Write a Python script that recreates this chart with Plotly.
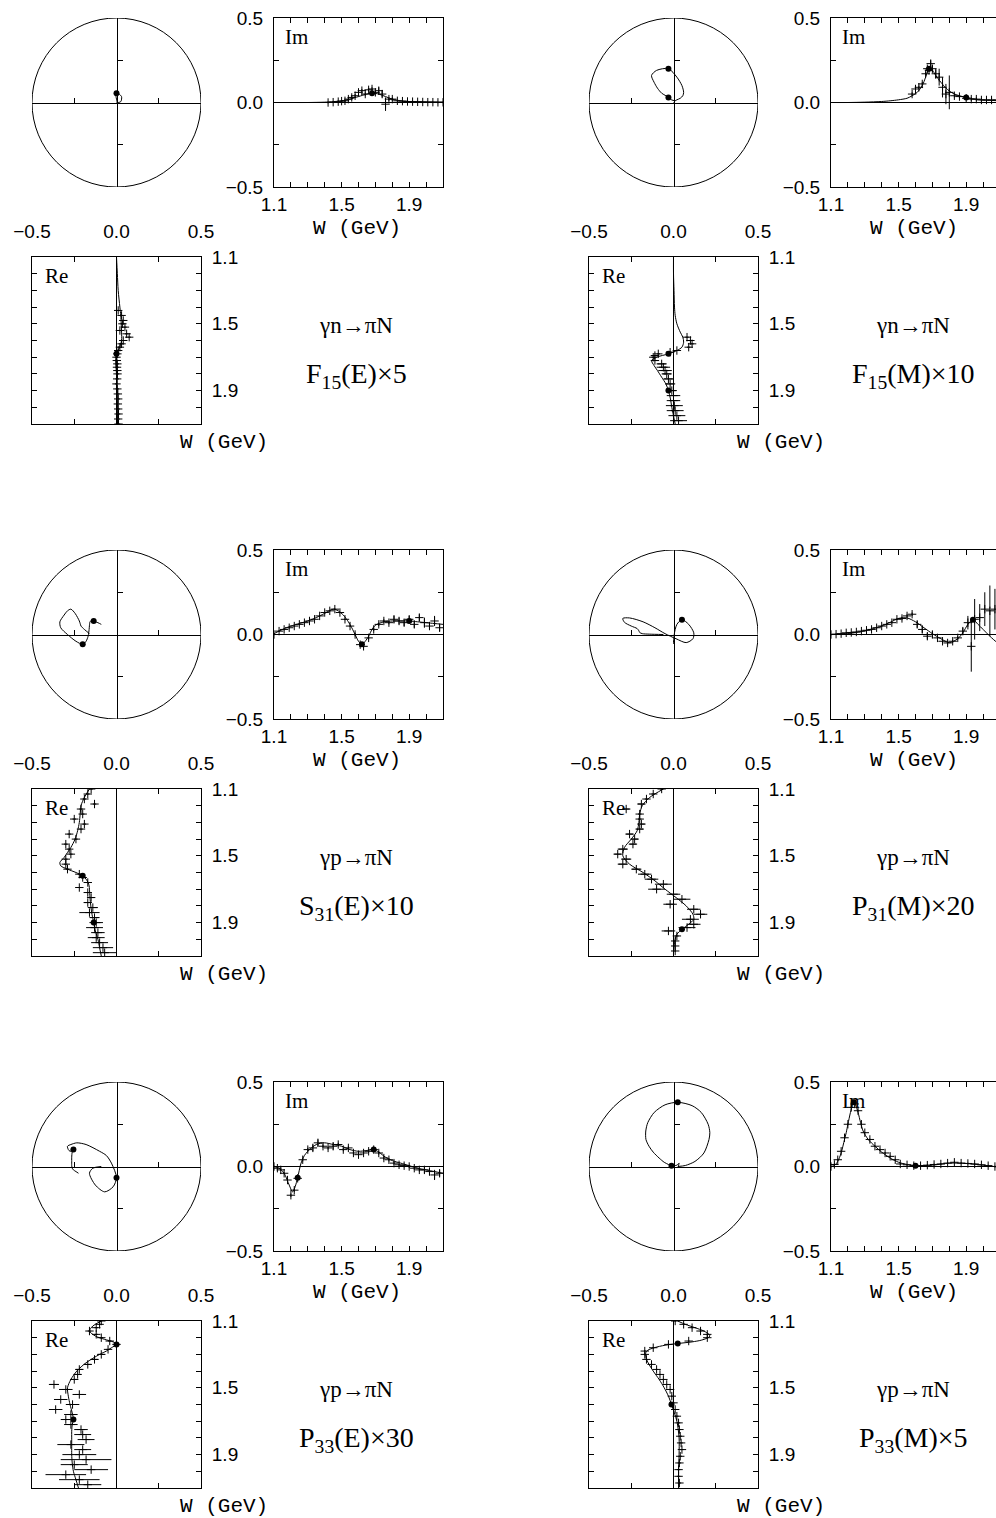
import plotly.graph_objects as go

# ---------------- tick values / labels ----------------
W_MAJOR = [1.1, 1.5, 1.9]
W_MAJOR_LABELS = ["1.1", "1.5", "1.9"]
W_MINOR = [1.2, 1.3, 1.4, 1.6, 1.7, 1.8, 2.0, 2.1]
W_ALL = [1.1, 1.2, 1.3, 1.4, 1.5, 1.6, 1.7, 1.8, 1.9, 2.0, 2.1]
AMP_MAJOR = [-0.5, 0.0, 0.5]
AMP_MAJOR_LABELS = ["\u22120.5", "0.0", "0.5"]
AMP_MINOR = [-0.25, 0.25]
CROSS_TICKS = [-0.25, 0.25]

# ---------------- panel texts ----------------
reactions = ["\u03b3n\u2192\u03c0N", "\u03b3n\u2192\u03c0N", "\u03b3p\u2192\u03c0N",
             "\u03b3p\u2192\u03c0N", "\u03b3p\u2192\u03c0N", "\u03b3p\u2192\u03c0N"]
multipoles = ["F<sub>15</sub>(E)\u00d75", "F<sub>15</sub>(M)\u00d710", "S<sub>31</sub>(E)\u00d710",
              "P<sub>31</sub>(M)\u00d720", "P<sub>33</sub>(E)\u00d730", "P<sub>33</sub>(M)\u00d75"]

# ---------------- panel 1: F15(E)x5 ----------------
w_curve_1 = [1.10, 1.20, 1.30, 1.40, 1.45, 1.50, 1.55, 1.60, 1.65, 1.68, 1.72, 1.76, 1.80, 1.85, 1.90, 2.00, 2.10]
im_curve_1 = [0.0, 0.0, 0.0, 0.002, 0.005, 0.01, 0.02, 0.035, 0.05, 0.055, 0.05, 0.035, 0.02, 0.01, 0.006, 0.003, 0.002]
re_curve_1 = [0.0, 0.005, 0.01, 0.02, 0.025, 0.028, 0.03, 0.03, 0.015, 0.0, -0.005, -0.003, 0.0, 0.002, 0.003, 0.005, 0.006]
w_dots_1 = [1.68]
w_data_1 = [1.42, 1.45, 1.48, 1.50, 1.52, 1.54, 1.56, 1.58, 1.60, 1.62, 1.64, 1.66, 1.68, 1.70, 1.72, 1.74, 1.76, 1.78,
            1.80, 1.83, 1.86, 1.89, 1.92, 1.95, 1.98, 2.01, 2.04, 2.07, 2.10]
im_data_1 = [0.0, 0.002, 0.005, 0.008, 0.01, 0.02, 0.03, 0.04, 0.06, 0.07, 0.05, 0.075, 0.08, 0.06, 0.07, 0.05, -0.01,
             0.02, 0.02, 0.01, 0.008, 0.006, 0.005, 0.004, 0.003, 0.002, 0.002, 0.001, 0.001]
im_err_1 = [0.005, 0.005, 0.005, 0.005, 0.005, 0.01, 0.01, 0.01, 0.01, 0.01, 0.01, 0.01, 0.01, 0.01, 0.02, 0.02, 0.04,
            0.01, 0.01, 0.005, 0.005, 0.005, 0.005, 0.005, 0.005, 0.005, 0.005, 0.005, 0.005]
re_data_1 = [0.01, 0.03, 0.04, 0.035, 0.05, 0.02, 0.06, 0.075, 0.04, 0.03, 0.02, 0.01, 0.005, 0.0, 0.002, 0.005, 0.003,
             0.005, 0.006, 0.004, 0.0, 0.005, 0.008, 0.01, 0.008, 0.01, 0.012, 0.01, 0.012]
re_err_1 = [0.01, 0.01, 0.01, 0.01, 0.01, 0.01, 0.01, 0.01, 0.01, 0.01, 0.01, 0.01, 0.01, 0.01, 0.01, 0.01, 0.01,
            0.01, 0.01, 0.01, 0.01, 0.01, 0.01, 0.01, 0.01, 0.01, 0.01, 0.01, 0.01]

# ---------------- panel 2: F15(M)x10 ----------------
w_curve_2 = [1.10, 1.20, 1.30, 1.40, 1.45, 1.50, 1.55, 1.58, 1.61, 1.64, 1.66, 1.68, 1.70, 1.72, 1.75, 1.78, 1.82,
             1.86, 1.90, 1.95, 2.00, 2.10]
im_curve_2 = [0.0, 0.0, 0.002, 0.006, 0.01, 0.016, 0.025, 0.04, 0.06, 0.1, 0.15, 0.2, 0.19, 0.16, 0.12, 0.085, 0.055,
              0.04, 0.03, 0.02, 0.015, 0.01]
re_curve_2 = [0.0, 0.0, 0.003, 0.006, 0.01, 0.02, 0.04, 0.055, 0.06, 0.05, 0.02, -0.03, -0.1, -0.13, -0.115, -0.095,
              -0.07, -0.045, -0.03, -0.018, -0.01, 0.01]
w_dots_2 = [1.68, 1.90]
w_data_2 = [1.58, 1.60, 1.62, 1.64, 1.66, 1.67, 1.68, 1.69, 1.70, 1.72, 1.74, 1.76, 1.78, 1.80, 1.83, 1.86, 1.90, 1.93,
            1.96, 1.99, 2.02, 2.05, 2.08]
im_data_2 = [0.05, 0.08, 0.09, 0.11, 0.17, 0.2, 0.19, 0.23, 0.2, 0.17, 0.15, 0.09, 0.05, 0.06, 0.04, 0.035, 0.025,
             0.02, 0.02, 0.015, 0.015, 0.015, 0.015]
im_err_2 = [0.01, 0.01, 0.01, 0.01, 0.01, 0.01, 0.01, 0.02, 0.02, 0.03, 0.05, 0.06, 0.06, 0.1, 0.01, 0.01, 0.01, 0.01,
            0.01, 0.01, 0.01, 0.01, 0.01]
re_data_2 = [0.08, 0.1, 0.11, 0.09, 0.02, -0.02, -0.09, -0.11, -0.12, -0.11, -0.07, -0.06, -0.05, -0.04, -0.03, -0.02,
             -0.01, 0.0, 0.0, 0.005, 0.01, 0.02, 0.03]
re_err_2 = [0.01, 0.01, 0.01, 0.01, 0.01, 0.01, 0.01, 0.01, 0.01, 0.02, 0.03, 0.04, 0.04, 0.03, 0.03, 0.03, 0.03, 0.04,
            0.04, 0.05, 0.05, 0.05, 0.05]

# ---------------- panel 3: S31(E)x10 ----------------
w_curve_3 = [1.10, 1.15, 1.20, 1.25, 1.30, 1.35, 1.40, 1.45, 1.48, 1.51, 1.54, 1.56, 1.58, 1.60, 1.62, 1.64, 1.66,
             1.68, 1.70, 1.75, 1.80, 1.85, 1.90, 1.95, 2.00, 2.05, 2.10]
im_curve_3 = [0.005, 0.03, 0.05, 0.065, 0.08, 0.1, 0.125, 0.15, 0.14, 0.115, 0.075, 0.04, 0.0, -0.04, -0.058, -0.04,
              -0.01, 0.03, 0.055, 0.075, 0.08, 0.08, 0.08, 0.075, 0.07, 0.065, 0.06]
re_curve_3 = [-0.16, -0.19, -0.21, -0.215, -0.22, -0.23, -0.245, -0.27, -0.29, -0.31, -0.335, -0.33, -0.29, -0.24,
              -0.2, -0.18, -0.168, -0.162, -0.16, -0.157, -0.152, -0.145, -0.135, -0.125, -0.11, -0.1, -0.09]
w_dots_3 = [1.62, 1.90]
w_data_3 = [1.10, 1.13, 1.16, 1.19, 1.22, 1.25, 1.28, 1.31, 1.34, 1.37, 1.40, 1.43, 1.46, 1.49, 1.52, 1.55, 1.58,
            1.61, 1.63, 1.66, 1.69, 1.72, 1.75, 1.78, 1.81, 1.84, 1.87, 1.90, 1.93, 1.96, 1.99, 2.02, 2.05, 2.08]
im_data_3 = [0.0, 0.02, 0.03, 0.04, 0.05, 0.06, 0.07, 0.08, 0.09, 0.11, 0.13, 0.14, 0.15, 0.13, 0.09, 0.05, 0.0,
             -0.06, -0.07, -0.02, 0.03, 0.06, 0.08, 0.07, 0.09, 0.08, 0.07, 0.09, 0.06, 0.1, 0.07, 0.05, 0.08, 0.04]
im_err_3 = [0.005, 0.005, 0.005, 0.005, 0.005, 0.005, 0.005, 0.005, 0.005, 0.005, 0.005, 0.005, 0.005, 0.005, 0.005,
            0.005, 0.01, 0.01, 0.01, 0.01, 0.01, 0.01, 0.01, 0.01, 0.02, 0.02, 0.02, 0.02, 0.02, 0.02, 0.03, 0.02,
            0.03, 0.02]
re_data_3 = [-0.15, -0.17, -0.19, -0.13, -0.21, -0.2, -0.25, -0.19, -0.21, -0.28, -0.24, -0.3, -0.28, -0.27, -0.3,
             -0.3, -0.29, -0.22, -0.2, -0.17, -0.22, -0.17, -0.15, -0.17, -0.14, -0.16, -0.13, -0.12, -0.13, -0.11,
             -0.12, -0.1, -0.08, -0.07]
re_err_3 = [0.01, 0.01, 0.01, 0.01, 0.01, 0.01, 0.01, 0.01, 0.01, 0.01, 0.01, 0.01, 0.01, 0.01, 0.01, 0.01, 0.01,
            0.01, 0.01, 0.01, 0.01, 0.01, 0.02, 0.02, 0.03, 0.06, 0.03, 0.04, 0.05, 0.04, 0.05, 0.05, 0.06, 0.07]

# ---------------- panel 4: P31(M)x20 ----------------
w_curve_4 = [1.10, 1.15, 1.20, 1.25, 1.30, 1.35, 1.40, 1.45, 1.50, 1.55, 1.60, 1.65, 1.70, 1.75, 1.80, 1.85, 1.88,
             1.91, 1.94, 1.97, 2.00, 2.04, 2.08, 2.10]
im_curve_4 = [0.0, 0.002, 0.005, 0.012, 0.022, 0.035, 0.05, 0.072, 0.095, 0.098, 0.075, 0.04, 0.005, -0.025, -0.048,
              -0.025, 0.01, 0.06, 0.088, 0.06, 0.03, -0.01, -0.045, -0.055]
re_curve_4 = [-0.06, -0.14, -0.185, -0.2, -0.205, -0.215, -0.25, -0.29, -0.3, -0.26, -0.18, -0.11, -0.05, 0.015,
              0.075, 0.115, 0.12, 0.09, 0.05, 0.02, 0.01, 0.003, 0.0, 0.0]
w_dots_4 = [1.94]
w_data_4 = [1.10, 1.13, 1.16, 1.19, 1.22, 1.25, 1.28, 1.31, 1.34, 1.37, 1.40, 1.43, 1.46, 1.49, 1.52, 1.55, 1.58,
            1.61, 1.64, 1.67, 1.70, 1.73, 1.76, 1.79, 1.82, 1.85, 1.88, 1.91, 1.93, 1.95, 1.98, 2.01, 2.04, 2.07]
im_data_4 = [0.0, 0.002, 0.005, 0.01, 0.012, 0.015, 0.02, 0.025, 0.03, 0.04, 0.05, 0.06, 0.07, 0.09, 0.095, 0.11,
             0.12, 0.06, 0.03, -0.01, 0.0, -0.02, -0.04, -0.05, -0.04, -0.02, 0.02, 0.07, -0.07, 0.09, 0.1, 0.15,
             0.14, 0.15]
im_err_4 = [0.005, 0.005, 0.005, 0.005, 0.005, 0.005, 0.005, 0.005, 0.005, 0.005, 0.005, 0.005, 0.005, 0.005, 0.01,
            0.01, 0.01, 0.02, 0.02, 0.02, 0.02, 0.01, 0.01, 0.01, 0.01, 0.01, 0.02, 0.04, 0.15, 0.12, 0.08, 0.1,
            0.15, 0.12]
re_data_4 = [-0.07, -0.12, -0.16, -0.19, -0.28, -0.2, -0.2, -0.19, -0.2, -0.26, -0.23, -0.24, -0.3, -0.33, -0.28,
             -0.3, -0.22, -0.17, -0.13, -0.06, -0.1, 0.0, 0.05, -0.02, 0.12, 0.16, 0.1, 0.12, 0.08, -0.03, 0.02,
             0.01, 0.01, 0.01]
re_err_4 = [0.01, 0.01, 0.01, 0.02, 0.02, 0.01, 0.01, 0.02, 0.02, 0.02, 0.02, 0.02, 0.03, 0.02, 0.03, 0.03, 0.03,
            0.04, 0.04, 0.05, 0.05, 0.04, 0.05, 0.04, 0.04, 0.04, 0.05, 0.04, 0.05, 0.04, 0.01, 0.005, 0.005, 0.005]

# ---------------- panel 5: P33(E)x30 ----------------
w_curve_5 = [1.10, 1.13, 1.16, 1.19, 1.21, 1.225, 1.24, 1.26, 1.28, 1.30, 1.35, 1.40, 1.45, 1.50, 1.55, 1.60, 1.65,
             1.69, 1.72, 1.76, 1.80, 1.85, 1.90, 1.95, 2.00, 2.05, 2.10]
im_curve_5 = [0.0, -0.01, -0.04, -0.11, -0.15, -0.12, -0.066, 0.02, 0.065, 0.09, 0.13, 0.14, 0.13, 0.12, 0.1, 0.09,
              0.095, 0.1, 0.085, 0.055, 0.035, 0.02, 0.005, -0.01, -0.02, -0.03, -0.04]
re_curve_5 = [-0.09, -0.14, -0.16, -0.125, -0.07, -0.02, 0.0, -0.03, -0.06, -0.1, -0.18, -0.235, -0.27, -0.29,
              -0.285, -0.275, -0.262, -0.255, -0.262, -0.265, -0.265, -0.265, -0.265, -0.262, -0.255, -0.24, -0.225]
w_dots_5 = [1.24, 1.69]
w_data_5 = [1.10, 1.12, 1.14, 1.16, 1.18, 1.20, 1.22, 1.24, 1.27, 1.30, 1.33, 1.36, 1.39, 1.42, 1.45, 1.48, 1.51,
            1.54, 1.57, 1.60, 1.63, 1.66, 1.69, 1.72, 1.75, 1.78, 1.81, 1.84, 1.87, 1.90, 1.93, 1.96, 1.99, 2.02,
            2.05, 2.08]
im_data_5 = [0.0, -0.01, -0.02, -0.04, -0.08, -0.17, -0.14, -0.07, 0.04, 0.1, 0.11, 0.14, 0.12, 0.11, 0.12, 0.13,
             0.1, 0.11, 0.08, 0.07, 0.08, 0.09, 0.1, 0.08, 0.05, 0.04, 0.02, 0.01, 0.005, 0.0, -0.01, -0.02, -0.02,
             -0.03, -0.05, -0.04]
im_err_5 = [0.005, 0.005, 0.005, 0.005, 0.01, 0.01, 0.01, 0.01, 0.01, 0.01, 0.02, 0.02, 0.01, 0.01, 0.02, 0.01,
            0.01, 0.01, 0.01, 0.01, 0.01, 0.01, 0.01, 0.01, 0.01, 0.01, 0.01, 0.01, 0.01, 0.01, 0.01, 0.01, 0.02,
            0.02, 0.03, 0.02]
re_data_5 = [-0.09, -0.1, -0.12, -0.16, -0.12, -0.09, -0.04, 0.0, -0.05, -0.09, -0.13, -0.17, -0.22, -0.23, -0.25,
             -0.37, -0.3, -0.22, -0.33, -0.26, -0.36, -0.27, -0.3, -0.27, -0.21, -0.2, -0.18, -0.27, -0.2, -0.22,
             -0.18, -0.25, -0.15, -0.3, -0.22, -0.17]
re_err_5 = [0.005, 0.005, 0.01, 0.01, 0.01, 0.01, 0.01, 0.01, 0.01, 0.02, 0.02, 0.02, 0.02, 0.02, 0.02, 0.03, 0.04,
            0.04, 0.04, 0.04, 0.04, 0.04, 0.03, 0.04, 0.04, 0.05, 0.05, 0.08, 0.05, 0.1, 0.15, 0.08, 0.1, 0.12,
            0.12, 0.08]

# ---------------- panel 6: P33(M)x5 ----------------
w_curve_6 = [1.10, 1.12, 1.14, 1.16, 1.18, 1.19, 1.20, 1.215, 1.225, 1.235, 1.245, 1.26, 1.275, 1.29, 1.32, 1.36,
             1.40, 1.45, 1.50, 1.55, 1.60, 1.70, 1.80, 1.90, 2.00, 2.10]
im_curve_6 = [0.0, 0.006, 0.03, 0.08, 0.16, 0.2, 0.25, 0.32, 0.36, 0.38, 0.365, 0.32, 0.26, 0.21, 0.16, 0.12,
              0.085, 0.05, 0.025, 0.012, 0.005, 0.008, 0.02, 0.018, 0.008, -0.005]
re_curve_6 = [0.025, 0.07, 0.127, 0.18, 0.21, 0.215, 0.205, 0.164, 0.11, 0.025, -0.05, -0.114, -0.152, -0.164,
              -0.163, -0.145, -0.12, -0.085, -0.055, -0.03, -0.012, 0.02, 0.033, 0.033, 0.03, 0.03]
w_dots_6 = [1.235, 1.60]
w_data_6 = [1.10, 1.12, 1.14, 1.16, 1.18, 1.20, 1.22, 1.24, 1.26, 1.28, 1.30, 1.33, 1.36, 1.39, 1.42, 1.45, 1.48,
            1.51, 1.55, 1.59, 1.63, 1.67, 1.71, 1.75, 1.79, 1.83, 1.87, 1.91, 1.95, 1.99, 2.03, 2.07]
im_data_6 = [0.0, 0.012, 0.04, 0.09, 0.17, 0.25, 0.35, 0.37, 0.33, 0.25, 0.2, 0.16, 0.12, 0.1, 0.08, 0.06, 0.04,
             0.015, 0.01, 0.005, 0.005, 0.008, 0.012, 0.015, 0.02, 0.025, 0.02, 0.018, 0.015, 0.01, 0.005, 0.0]
im_err_6 = [0.005, 0.005, 0.005, 0.005, 0.005, 0.005, 0.005, 0.005, 0.005, 0.005, 0.005, 0.005, 0.005, 0.005, 0.005,
            0.005, 0.005, 0.005, 0.005, 0.005, 0.005, 0.005, 0.005, 0.005, 0.005, 0.005, 0.005, 0.005, 0.005, 0.005,
            0.005, 0.005]
re_data_6 = [0.01, 0.06, 0.11, 0.16, 0.2, 0.2, 0.09, -0.03, -0.12, -0.17, -0.17, -0.16, -0.13, -0.1, -0.08, -0.06,
             -0.04, -0.02, -0.01, 0.0, 0.01, 0.02, 0.03, 0.035, 0.04, 0.045, 0.05, 0.04, 0.035, 0.03, 0.03, 0.035]
re_err_6 = [0.005, 0.005, 0.005, 0.005, 0.005, 0.005, 0.005, 0.005, 0.005, 0.005, 0.005, 0.005, 0.005, 0.005, 0.005,
            0.005, 0.005, 0.005, 0.005, 0.005, 0.01, 0.01, 0.01, 0.01, 0.01, 0.01, 0.01, 0.01, 0.01, 0.01, 0.01, 0.01]

PANELS = [
    (w_curve_1, re_curve_1, im_curve_1, w_dots_1, w_data_1, re_data_1, re_err_1, im_data_1, im_err_1),
    (w_curve_2, re_curve_2, im_curve_2, w_dots_2, w_data_2, re_data_2, re_err_2, im_data_2, im_err_2),
    (w_curve_3, re_curve_3, im_curve_3, w_dots_3, w_data_3, re_data_3, re_err_3, im_data_3, im_err_3),
    (w_curve_4, re_curve_4, im_curve_4, w_dots_4, w_data_4, re_data_4, re_err_4, im_data_4, im_err_4),
    (w_curve_5, re_curve_5, im_curve_5, w_dots_5, w_data_5, re_data_5, re_err_5, im_data_5, im_err_5),
    (w_curve_6, re_curve_6, im_curve_6, w_dots_6, w_data_6, re_data_6, re_err_6, im_data_6, im_err_6),
]

# ---------------- geometry (pixels) ----------------
FIG_W, FIG_H = 996, 1518
COL_DX, ROW_DY = 557, 532
CIRC_X, CIRC_Y = (32, 201), (18, 187)
IM_X, IM_Y = (274, 443), (18, 187)
RE_X, RE_Y = (32, 201), (257, 424)
PX_PER_GEV = 169.0

TICK_FONT = dict(family="Liberation Sans, Arial, sans-serif", size=19, color="black")
MONO = "Liberation Mono, Courier New, monospace"
SERIF = "Liberation Serif, Times New Roman, serif"
BLACK = "black"


def fx(x):
    return min(max(x / FIG_W, 0.0), 1.0)


def fy(y):
    return min(max(1.0 - y / FIG_H, 0.0), 1.0)


def xdom(a, b):
    return [fx(a), fx(b)]


def ydom(a, b):
    return [fy(b), fy(a)]


layout = dict(width=FIG_W, height=FIG_H, autosize=False, margin=dict(l=0, r=0, t=0, b=0, pad=0),
              template="none", paper_bgcolor="white", plot_bgcolor="white", showlegend=False,
              shapes=[], annotations=[])
traces = []
counter = [0]


def new_axes():
    counter[0] += 1
    k = counter[0]
    suffix = "" if k == 1 else str(k)
    return k, "xaxis" + suffix, "yaxis" + suffix, "x" + suffix, "y" + suffix


MINOR_STYLE = dict(ticks="inside", ticklen=5, tickwidth=1, tickcolor=BLACK, showgrid=False)
base_axis = dict(showgrid=False, ticks="inside", ticklen=5, tickwidth=1, tickcolor=BLACK,
                 showline=True, linecolor=BLACK, linewidth=1, tickfont=TICK_FONT, zeroline=False,
                 fixedrange=True, automargin=False, tickmode="array")


def text(x, y, s, size, family, xanchor="center", yanchor="middle"):
    layout["annotations"].append(dict(x=fx(x), y=fy(y), xref="paper", yref="paper", text=s, showarrow=False,
                                      xanchor=xanchor, yanchor=yanchor,
                                      font=dict(size=size, family=family, color=BLACK)))


CURVE_LINE = dict(color=BLACK, width=1, shape="spline", smoothing=0.8)
CROSS_MARK = dict(symbol="cross-thin", size=6, line=dict(color=BLACK, width=1))
DOT_MARK = dict(color=BLACK, size=6)

for i, (wc, rc, ic, wdots, wd, rd, re_e, imd, im_e) in enumerate(PANELS):
    col, row = i % 2, i // 2
    dx, dy = COL_DX * col, ROW_DY * row
    idx = [wc.index(w) for w in wdots]
    dot_w = [wc[j] for j in idx]
    dot_re = [rc[j] for j in idx]
    dot_im = [ic[j] for j in idx]

    # ---------- Argand circle ----------
    k, xa, ya, xr, yr = new_axes()
    cx = (CIRC_X[0] + CIRC_X[1]) / 2 + dx
    cy = (CIRC_Y[0] + CIRC_Y[1]) / 2 + dy
    layout[xa] = dict(base_axis, domain=xdom(CIRC_X[0] + dx, CIRC_X[1] + dx), range=[-0.5, 0.5],
                      anchor="free", position=fy(cy), tickvals=CROSS_TICKS, showticklabels=False)
    layout[ya] = dict(base_axis, domain=ydom(CIRC_Y[0] + dy, CIRC_Y[1] + dy), range=[-0.5, 0.5],
                      anchor="free", position=fx(cx), tickvals=CROSS_TICKS, showticklabels=False)
    layout["shapes"].append(dict(type="circle", xref=xr, yref=yr, x0=-0.5, y0=-0.5, x1=0.5, y1=0.5,
                                 line=dict(color=BLACK, width=1)))
    traces.append(go.Scatter(x=rc, y=ic, xaxis=xr, yaxis=yr, mode="lines", line=CURVE_LINE, hoverinfo="skip"))
    traces.append(go.Scatter(x=dot_re, y=dot_im, xaxis=xr, yaxis=yr, mode="markers", marker=DOT_MARK,
                             hoverinfo="skip"))

    # ---------- Im vs W ----------
    k, xa, ya, xr, yr = new_axes()
    x_right = min(IM_X[1] + dx, FIG_W)
    w_max = 1.1 + (x_right - (IM_X[0] + dx)) / PX_PER_GEV
    clipped = x_right < IM_X[1] + dx
    im_xdom = xdom(IM_X[0] + dx, x_right)
    layout[xa] = dict(base_axis, domain=im_xdom, range=[1.1, w_max], anchor=yr,
                      mirror="ticks", tickvals=W_MAJOR, ticktext=W_MAJOR_LABELS, ticklabelstandoff=0,
                      minor=dict(MINOR_STYLE, tickvals=W_MINOR))
    layout[ya] = dict(base_axis, domain=ydom(IM_Y[0] + dy, IM_Y[1] + dy), range=[-0.5, 0.5], anchor=xr,
                      mirror=False if clipped else "ticks", tickvals=AMP_MAJOR, ticktext=AMP_MAJOR_LABELS,
                      minor=dict(MINOR_STYLE, tickvals=AMP_MINOR),
                      zeroline=True, zerolinecolor=BLACK, zerolinewidth=1, ticklabelstandoff=6)
    # small tick marks along the zero line
    k0, xa0, _, xr0, _ = new_axes()
    layout[xa0] = dict(showgrid=False, zeroline=False, showline=False, ticks="inside", ticklen=3, tickwidth=1,
                       tickcolor=BLACK, showticklabels=False, tickmode="array", tickvals=W_ALL,
                       domain=im_xdom, range=[1.1, w_max], anchor="free",
                       position=fy((IM_Y[0] + IM_Y[1]) / 2 + dy), overlaying=xr, fixedrange=True, automargin=False)
    traces.append(go.Scatter(x=wd, y=imd, xaxis=xr, yaxis=yr, mode="markers", marker=CROSS_MARK,
                             error_y=dict(type="data", array=im_e, visible=True, thickness=1, width=0,
                                          color=BLACK), hoverinfo="skip"))
    traces.append(go.Scatter(x=wc, y=ic, xaxis=xr, yaxis=yr, mode="lines", line=CURVE_LINE, hoverinfo="skip"))
    traces.append(go.Scatter(x=dot_w, y=dot_im, xaxis=xr, yaxis=yr, mode="markers", marker=DOT_MARK,
                             hoverinfo="skip"))

    # ---------- Re vs W (rotated) ----------
    k, xa, ya, xr, yr = new_axes()
    layout[xa] = dict(base_axis, domain=xdom(RE_X[0] + dx, RE_X[1] + dx), range=[-0.5, 0.5], anchor=yr,
                      side="top", mirror="ticks", tickvals=AMP_MAJOR, ticktext=AMP_MAJOR_LABELS,
                      minor=dict(MINOR_STYLE, tickvals=AMP_MINOR),
                      zeroline=True, zerolinecolor=BLACK, zerolinewidth=1, ticklabelstandoff=10)
    layout[ya] = dict(base_axis, domain=ydom(RE_Y[0] + dy, RE_Y[1] + dy), range=[2.1, 1.1], anchor=xr,
                      side="right", mirror="ticks", tickvals=W_MAJOR, ticktext=W_MAJOR_LABELS,
                      minor=dict(MINOR_STYLE, tickvals=W_MINOR), ticklabelstandoff=6)
    traces.append(go.Scatter(x=rd, y=wd, xaxis=xr, yaxis=yr, mode="markers", marker=CROSS_MARK,
                             error_x=dict(type="data", array=re_e, visible=True, thickness=1, width=0,
                                          color=BLACK), hoverinfo="skip"))
    traces.append(go.Scatter(x=rc, y=wc, xaxis=xr, yaxis=yr, mode="lines", line=CURVE_LINE, hoverinfo="skip"))
    traces.append(go.Scatter(x=dot_re, y=dot_w, xaxis=xr, yaxis=yr, mode="markers", marker=DOT_MARK,
                             hoverinfo="skip"))

    # ---------- texts ----------
    text(IM_X[0] + 9 + dx, 37 + dy, "Im", 21, SERIF, xanchor="left")
    text(RE_X[0] + 11 + dx, 276 + dy, "Re", 21, SERIF, xanchor="left")
    text(357 + dx, 228 + dy, "W (GeV)", 21, MONO)
    text(224 + dx, 442 + dy, "W (GeV)", 21, MONO)
    text(356 + dx, 325 + dy, reactions[i], 23, SERIF)
    text(356 + dx, 375 + dy, multipoles[i], 28, SERIF)

fig = go.Figure(data=traces, layout=layout)
fig.write_html("out.html")
